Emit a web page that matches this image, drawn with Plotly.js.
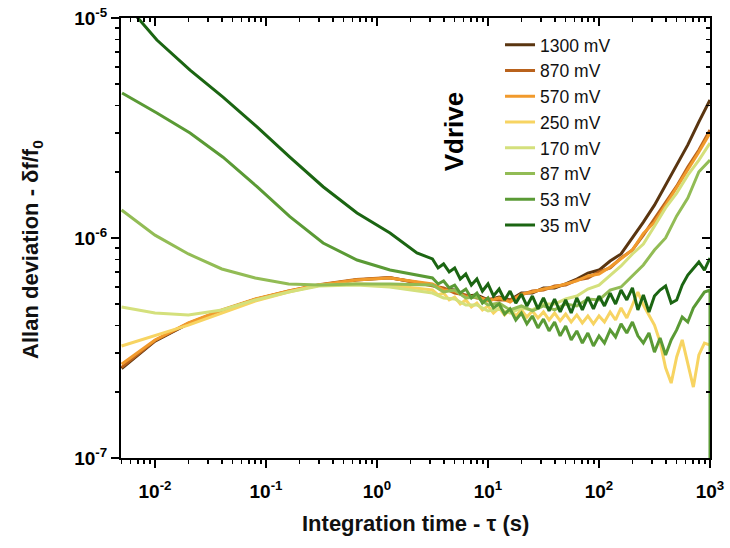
<!DOCTYPE html>
<html>
<head>
<meta charset="utf-8">
<script src="https://cdn.plot.ly/plotly-3.0.1.min.js"></script>
<style>html,body{margin:0;padding:0;background:#fff;}#chart{width:730px;height:548px;}</style>
</head>
<body>
<div id="chart"></div>
<script>
// ---- data ----
const seriesNames = ['1300 mV','870 mV','570 mV','250 mV','170 mV','87 mV','53 mV','35 mV'];
const seriesColors = ['#5a3510','#b9621c','#f19a2c','#f7d462','#d4e07c','#92bc55','#5a9a35','#1b6512'];

const tau1300 = [0.005,0.01,0.02,0.04,0.08,0.16,0.3,0.65,1.3,3.16,3.98,5.01,6.31,7.94,10,12.6,15.8,20,25.1,31.6,39.8,50.1,63.1,79.4,100,126,158,200,251,316,398,501,631,794,1000];
const dev1300 = [2.55e-7,3.40e-7,4.08e-7,4.68e-7,5.25e-7,5.72e-7,6.10e-7,6.45e-7,6.60e-7,6.11e-7,5.86e-7,5.80e-7,5.45e-7,5.51e-7,5.23e-7,5.39e-7,5.23e-7,5.62e-7,5.62e-7,5.93e-7,5.93e-7,6.18e-7,6.51e-7,6.93e-7,7.15e-7,7.86e-7,8.46e-7,1.00e-6,1.18e-6,1.41e-6,1.74e-6,2.15e-6,2.65e-6,3.37e-6,4.24e-6];

const tau870 = [0.005,0.01,0.02,0.04,0.08,0.16,0.3,0.65,1.3,3.16,3.98,5.01,6.31,7.94,10,12.6,15.8,20,25.1,31.6,39.8,50.1,63.1,79.4,100,126,158,200,251,316,398,501,631,794,1000];
const dev870 = [2.58e-7,3.42e-7,4.09e-7,4.69e-7,5.26e-7,5.74e-7,6.13e-7,6.48e-7,6.62e-7,6.05e-7,5.93e-7,5.62e-7,5.51e-7,5.34e-7,5.28e-7,5.23e-7,5.23e-7,5.51e-7,5.74e-7,5.80e-7,6.05e-7,6.11e-7,6.44e-7,6.58e-7,7.01e-7,7.31e-7,8.11e-7,8.82e-7,1.03e-6,1.22e-6,1.44e-6,1.72e-6,2.10e-6,2.51e-6,3.10e-6];

const tau570 = [0.005,0.01,0.02,0.04,0.08,0.16,0.3,0.65,1.3,3.16,3.98,5.01,6.31,7.94,10,12.6,15.8,20,25.1,31.6,39.8,50.1,63.1,79.4,100,126,158,200,251,316,398,501,631,794,1000];
const dev570 = [2.67e-7,3.44e-7,4.11e-7,4.71e-7,5.28e-7,5.74e-7,6.11e-7,6.44e-7,6.58e-7,6.18e-7,5.80e-7,5.74e-7,5.39e-7,5.45e-7,5.17e-7,5.34e-7,5.12e-7,5.56e-7,5.68e-7,5.86e-7,5.99e-7,6.18e-7,6.38e-7,6.72e-7,6.86e-7,7.38e-7,8.03e-7,8.82e-7,1.05e-6,1.18e-6,1.41e-6,1.69e-6,2.04e-6,2.46e-6,3.00e-6];

const tau250 = [0.005,0.01,0.02,0.04,0.08,0.16,0.3,0.65,1.3,3.16,3.55,3.98,4.47,5.01,5.62,6.31,7.08,7.94,8.91,10,11.2,12.6,14.1,15.8,17.8,20,22.4,25.1,28.2,31.6,35.5,39.8,44.7,50.1,56.2,63.1,70.8,79.4,89.1,100,112,126,141,158,178,200,224,251,282,316,355,398,447,501,562,631,708,794,891,1000];
const dev250 = [3.23e-7,3.59e-7,4.02e-7,4.56e-7,5.17e-7,5.68e-7,6.11e-7,6.20e-7,6.10e-7,5.80e-7,5.51e-7,5.62e-7,5.23e-7,5.39e-7,5.01e-7,5.23e-7,4.86e-7,5.06e-7,4.71e-7,4.91e-7,4.56e-7,4.81e-7,4.47e-7,4.76e-7,4.42e-7,4.71e-7,4.37e-7,4.66e-7,4.33e-7,4.61e-7,4.24e-7,4.56e-7,4.20e-7,4.51e-7,4.15e-7,4.47e-7,4.11e-7,4.42e-7,4.07e-7,4.42e-7,4.15e-7,4.61e-7,4.24e-7,4.81e-7,4.33e-7,4.96e-7,5.68e-7,4.96e-7,4.47e-7,4.02e-7,3.37e-7,2.57e-7,2.19e-7,2.88e-7,3.44e-7,2.65e-7,2.10e-7,2.94e-7,3.33e-7,3.26e-7];

const tau170 = [0.005,0.01,0.02,0.04,0.08,0.16,0.3,0.65,1.3,3.16,3.98,5.01,6.31,7.94,10,12.6,15.8,20,25.1,31.6,39.8,50.1,63.1,79.4,100,126,158,200,251,316,398,501,631,794,1000];
const dev170 = [4.86e-7,4.56e-7,4.47e-7,4.71e-7,5.23e-7,5.68e-7,6.05e-7,6.11e-7,5.99e-7,5.62e-7,5.34e-7,5.28e-7,4.96e-7,4.96e-7,4.66e-7,4.76e-7,4.56e-7,4.81e-7,4.71e-7,5.01e-7,5.01e-7,5.28e-7,5.45e-7,5.86e-7,6.11e-7,6.79e-7,7.46e-7,8.46e-7,9.39e-7,1.13e-6,1.37e-6,1.60e-6,1.93e-6,2.26e-6,2.70e-6];

const tau87 = [0.005,0.01,0.02,0.04,0.08,0.16,0.3,0.65,1.3,3.16,3.98,5.01,6.31,7.94,10,12.6,15.8,20,25.1,31.6,39.8,50.1,63.1,79.4,100,126,158,200,251,316,398,501,631,794,1000];
const dev87 = [1.34e-6,1.03e-6,8.46e-7,7.23e-7,6.58e-7,6.18e-7,6.11e-7,6.18e-7,6.18e-7,6.11e-7,5.68e-7,5.80e-7,5.34e-7,5.39e-7,4.96e-7,5.06e-7,4.71e-7,4.91e-7,4.66e-7,4.91e-7,4.71e-7,5.01e-7,4.91e-7,5.28e-7,5.23e-7,5.80e-7,5.99e-7,6.72e-7,7.54e-7,8.82e-7,1.00e-6,1.26e-6,1.52e-6,2.00e-6,2.26e-6];

const tau53 = [0.00505,0.0104,0.0207,0.041,0.083,0.164,0.327,0.661,1.31,3.16,3.55,3.98,4.47,5.01,5.62,6.31,7.08,7.94,8.91,10,11.2,12.6,14.1,15.8,17.8,20,22.4,25.1,28.2,31.6,35.5,39.8,44.7,50.1,56.2,63.1,70.8,79.4,89.1,100,112,126,141,158,178,200,224,251,282,316,355,398,447,501,562,631,708,794,891,1000,1000];
const dev53 = [4.56e-6,3.70e-6,3.00e-6,2.33e-6,1.71e-6,1.25e-6,9.49e-7,7.94e-7,7.16e-7,6.58e-7,6.18e-7,6.38e-7,5.93e-7,6.11e-7,5.62e-7,5.86e-7,5.34e-7,5.62e-7,5.06e-7,5.34e-7,4.81e-7,5.01e-7,4.51e-7,4.76e-7,4.24e-7,4.56e-7,4.07e-7,4.42e-7,3.90e-7,4.28e-7,3.78e-7,4.15e-7,3.59e-7,3.98e-7,3.44e-7,3.78e-7,3.33e-7,3.70e-7,3.23e-7,3.59e-7,3.33e-7,3.82e-7,3.55e-7,4.07e-7,3.70e-7,4.15e-7,3.59e-7,3.33e-7,3.70e-7,3.03e-7,3.51e-7,2.94e-7,3.44e-7,3.82e-7,4.37e-7,4.15e-7,4.81e-7,5.23e-7,5.68e-7,5.80e-7,5.0e-8];

const tau35 = [0.005,0.00703,0.0104,0.0207,0.041,0.083,0.164,0.327,0.661,1.31,2.29,3.16,3.55,3.98,4.47,5.01,5.62,6.31,7.08,7.94,8.91,10,11.2,12.6,14.1,15.8,17.8,20,22.4,25.1,28.2,31.6,35.5,39.8,44.7,50.1,56.2,63.1,70.8,79.4,89.1,100,112,126,141,158,178,200,224,251,282,316,355,398,447,501,562,631,708,794,891,1000];
const dev35 = [1.22e-5,1.00e-5,7.94e-6,5.80e-6,4.37e-6,3.20e-6,2.33e-6,1.71e-6,1.30e-6,1.054e-6,8.55e-7,8.03e-7,7.31e-7,7.62e-7,7.01e-7,7.31e-7,6.51e-7,6.86e-7,6.11e-7,6.51e-7,5.74e-7,6.18e-7,5.45e-7,5.86e-7,5.23e-7,5.74e-7,5.06e-7,5.56e-7,4.91e-7,5.45e-7,4.76e-7,5.34e-7,4.66e-7,5.28e-7,4.61e-7,5.23e-7,4.56e-7,5.34e-7,4.71e-7,5.39e-7,4.76e-7,5.45e-7,4.91e-7,5.62e-7,5.01e-7,5.80e-7,5.23e-7,5.93e-7,4.71e-7,5.51e-7,4.61e-7,5.45e-7,5.80e-7,6.05e-7,5.06e-7,5.23e-7,6.11e-7,6.79e-7,7.31e-7,7.78e-7,7.15e-7,8.11e-7];

const xTickVals = [0.01,0.1,1,10,100,1000];
const xTickText = ['10<sup>-2</sup>','10<sup>-1</sup>','10<sup>0</sup>','10<sup>1</sup>','10<sup>2</sup>','10<sup>3</sup>'];
const yTickVals = [1e-7,1e-6,1e-5];
const yTickText = ['10<sup>-7</sup>','10<sup>-6</sup>','10<sup>-5</sup>'];
const legendTitle = 'Vdrive';
const xTitle = 'Integration time - \u03c4 (s)';
const yTitle = 'Allan deviation - \u03b4f/f<sub>0</sub>';

// ---- build ----
const taus = [tau1300,tau870,tau570,tau250,tau170,tau87,tau53,tau35];
const devs = [dev1300,dev870,dev570,dev250,dev170,dev87,dev53,dev35];

const FONT = 'Arial, "Liberation Sans", sans-serif';
const traces = seriesNames.map((n,i)=>({
  type:'scatter', mode:'lines', name:n, x:taus[i], y:devs[i],
  line:{color:seriesColors[i], width:3}
}));
// empty trace to bring the mirrored axes to life
traces.push({type:'scatter', mode:'lines', x:[], y:[], xaxis:'x2', yaxis:'y2', showlegend:false, hoverinfo:'skip'});

function minorVals(lo, hi){
  const v=[];
  for(let e=lo;e<hi;e++){ for(let m=2;m<=9;m++){ v.push(m*Math.pow(10,e)); } }
  return v;
}
const xMinor = minorVals(-3,3);
const yMinor = minorVals(-7,-5);

const xr = [Math.log10(0.00494), 3];
const yr = [-7, -5];
const axisCommon = {
  type:'log', showgrid:false, zeroline:false, showline:true, linecolor:'#000', linewidth:2,
  tickcolor:'#000', tickwidth:2, ticklen:8, mirror:false,
};
const layout = {
  width:730, height:548,
  margin:{l:121, r:20, t:18, b:90},
  paper_bgcolor:'#fff', plot_bgcolor:'#fff',
  font:{family:FONT, color:'#000'},
  showlegend:true,
  legend:{x:0.6435, y:0.98, xanchor:'left', yanchor:'top', bgcolor:'rgba(0,0,0,0)',
          font:{family:FONT, size:17.5, color:'#111'}, tracegroupgap:0, itemwidth:30},
  xaxis:Object.assign({}, axisCommon, {
    range:xr, ticks:'outside', tickvals:xTickVals, ticktext:xTickText,
    tickfont:{family:FONT, size:19, weight:'bold'}, ticklabelstandoff:7,
    minor:{tickvals:xMinor, ticks:'outside', ticklen:4, tickwidth:1.5, tickcolor:'#000'}
  }),
  yaxis:Object.assign({}, axisCommon, {
    range:yr, ticks:'outside', tickvals:yTickVals, ticktext:yTickText,
    tickfont:{family:FONT, size:19, weight:'bold'},
    minor:{tickvals:yMinor, ticks:'outside', ticklen:4, tickwidth:1.5, tickcolor:'#000'}
  }),
  xaxis2:Object.assign({}, axisCommon, {
    range:xr, overlaying:'x', side:'top', anchor:'y2', ticks:'inside', tickvals:xTickVals,
    showticklabels:false,
    minor:{tickvals:xMinor, ticks:'inside', ticklen:4, tickwidth:1.5, tickcolor:'#000'}
  }),
  yaxis2:Object.assign({}, axisCommon, {
    range:yr, overlaying:'y', side:'right', anchor:'x2', ticks:'inside', tickvals:yTickVals,
    showticklabels:false,
    minor:{tickvals:yMinor, ticks:'inside', ticklen:4, tickwidth:1.5, tickcolor:'#000'}
  }),
  annotations:[
    {text:'<b>'+legendTitle+'</b>', xref:'paper', yref:'paper', x:0.565, y:0.742,
     showarrow:false, textangle:-90, font:{family:FONT, size:26, color:'#000'},
     xanchor:'center', yanchor:'middle'},
    {text:'<b>'+xTitle+'</b>', xref:'paper', yref:'paper', x:0.5, y:-0.148,
     showarrow:false, font:{family:FONT, size:22, color:'#111'}, xanchor:'center', yanchor:'middle'},
    {text:'<b>'+yTitle+'</b>', xref:'paper', yref:'paper', x:-0.151, y:0.473,
     showarrow:false, textangle:-90, font:{family:FONT, size:22, color:'#111'}, xanchor:'center', yanchor:'middle'}
  ]
};
Plotly.newPlot('chart', traces, layout, {displayModeBar:false, staticPlot:true});
</script>
</body>
</html>
